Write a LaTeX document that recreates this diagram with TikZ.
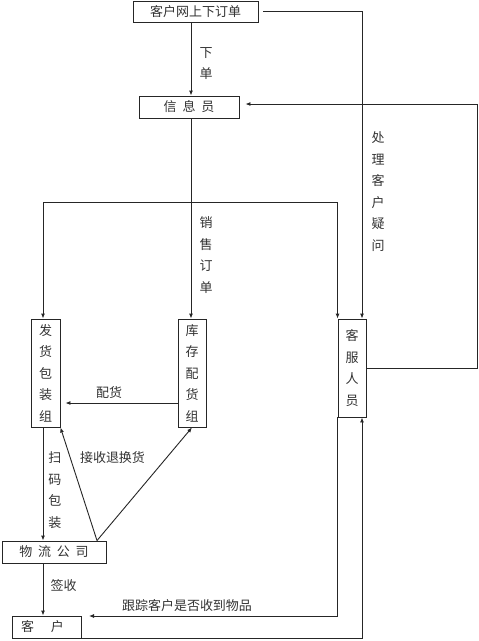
\documentclass[tikz,border=0pt]{standalone}
\usepackage{fontspec}
\newfontfamily\cjk{Noto Sans CJK SC}
\usetikzlibrary{arrows.meta,positioning}
\begin{document}
\begin{tikzpicture}[x=1pt,y=-1pt,
  every node/.style={font=\cjk\fontsize{13}{21.5}\selectfont, text=black!80, inner sep=0pt},
  box/.style={draw=black!85, line width=0.9pt, align=center},
  lab/.style={align=center},
  arr/.style={draw=black!85, line width=0.9pt, -{Latex[length=5pt,width=4pt]}},
  ln/.style={draw=black!85, line width=0.9pt}]
\useasboundingbox[fill=white] (0,0) rectangle (479,641);
% boxes
\node[box, minimum width=125pt, minimum height=21pt] (order) at (195.5,11.5) {客户网上下订单};
\node[box, minimum width=100pt, minimum height=22pt] (info) at (189,107) {信\ \ 息\ \ 员};
\node[box, minimum width=29pt, minimum height=108pt] (fh) at (45.5,373) {发\\货\\包\\装\\组};
\node[box, minimum width=28pt, minimum height=108pt] (kc) at (192,373) {库\\存\\配\\货\\组};
\node[box, minimum width=28pt, minimum height=98pt] (kf) at (352,368) {客\\服\\人\\员};
\node[box, minimum width=104pt, minimum height=22pt] (wl) at (54,552) {物\ \ 流\ \ 公\ \ 司};
\node[box, minimum width=69pt, minimum height=22pt] (kh) at (46.5,627) {客\hspace{17pt}户\hspace{8pt}};
% guide coordinates
\coordinate (L1) at (191,0);
\coordinate (L2) at (43,0);
\coordinate (L4) at (362,0);
\coordinate (L5) at (97,0);
\coordinate (Y403) at (0,403);
\coordinate (J) at (191,202);
\coordinate (trackend) at (89,616);
% connectors
\draw[arr] (order.south -| L1) -- (info.north -| L1);
\draw[arr] (info.south -| L1) -- (kc.north -| L1);
\draw[arr] (J) -| (fh.north -| L2);
\draw[arr] (J) -| (kf.north west);
\draw[arr] ([xshift=5pt]order.east) -| (kf.north -| L4);
\draw[arr] (kf.east) -- ++(111,0) |- ([xshift=6pt,yshift=3pt]info.east);
\draw[arr] (kc.west |- Y403) -- ([xshift=5pt]fh.east |- Y403);
\draw[arr] (fh.south -| L2) -- (wl.north -| L2);
\coordinate (T) at (wl.north -| L5);
\draw[arr] (T) -- (fh.south east);
\draw[arr] (T) -- (kc.south);
\draw[arr] (wl.south -| L2) -- (kh.north -| L2);
\draw[arr] (kf.south west) |- (trackend);
\draw[arr] (kh.south east) -| (kf.south -| L4);
% labels
\node[lab] (l1) at (206,63.5) {下\\单};
\node[lab] (l2) at (206,255) {销\\售\\订\\单};
\node[lab] (l3) at (378,191.5) {处\\理\\客\\户\\疑\\问};
\node[lab] (l4) at (109,393) {配货};
\node[lab] (l5) at (55,490) {扫\\码\\包\\装};
\node[lab] (l6) at (112.5,458) {接收退换货};
\node[lab] (l7) at (63.5,586) {签收};
\node[lab] (l8) at (187,606) {跟踪客户是否收到物品};
\end{tikzpicture}
\end{document}
